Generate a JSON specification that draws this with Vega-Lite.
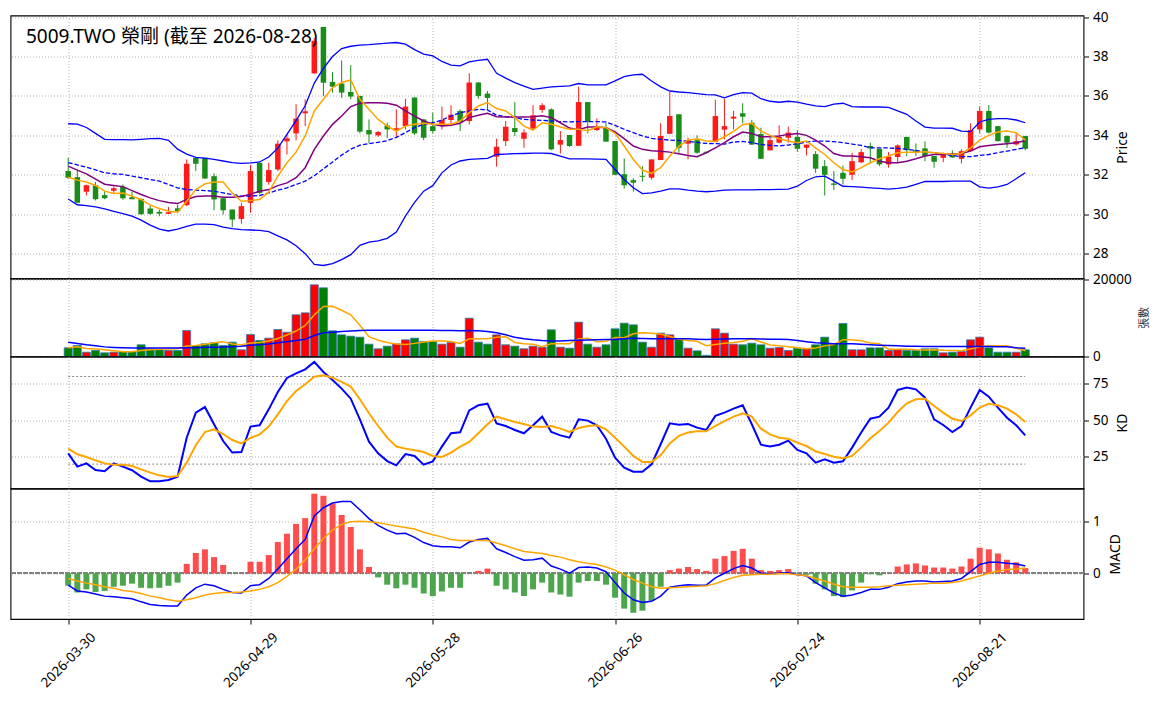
{
  "$schema": "https://vega.github.io/schema/vega-lite/v6.json",
  "description": "5009.TWO candlestick with Bollinger bands, volume, KD and MACD panels",
  "padding": {"left": 8.5, "top": 9.5, "right": 5, "bottom": 5},
  "background": "white",
  "spacing": 0,
  "bounds": "flush",
  "config": {
    "font": "Noto Sans, Noto Sans CJK TC",
    "view": {"stroke": "#000000", "strokeWidth": 1.1},
    "axis": {
      "labelFont": "Noto Sans, Noto Sans CJK TC",
      "labelFontSize": 13.5,
      "labelColor": "#000000",
      "titleFont": "Noto Sans, Noto Sans CJK TC",
      "titleFontSize": 14,
      "titleFontWeight": "normal",
      "titleColor": "#000000",
      "tickColor": "#000000",
      "tickSize": 5,
      "labelPadding": 4,
      "domain": false,
      "gridColor": "#b0b0b0",
      "gridDash": [1, 2],
      "gridWidth": 1
    },
    "axisRight": {"titleAngle": -90, "titleBaseline": "top", "titlePadding": 6}
  },
  "datasets": {
    "bars": [
      {"i":0,"o":32.19,"h":32.86,"l":31.8,"c":31.85,"v":2260,"m5":31.88,"m10":32.44,"mid":32.62,"up":34.59,"lo":30.77,"vm5":2260,"vm20":3720,"k":27.4,"d":30.6,"hist":-0.24,"dif":-0.23,"dea":-0.1},
      {"i":1,"o":31.88,"h":32.2,"l":30.58,"c":30.58,"v":2857,"m5":31.73,"m10":32.24,"mid":32.5,"up":34.57,"lo":30.48,"vm5":2560,"vm20":3400,"k":18.3,"d":26.7,"hist":-0.37,"dif":-0.34,"dea":-0.15},
      {"i":2,"o":31.14,"h":31.5,"l":30.95,"c":31.47,"v":1117,"m5":31.63,"m10":32.05,"mid":32.38,"up":34.4,"lo":30.44,"vm5":2080,"vm20":3050,"k":20.5,"d":24.9,"hist":-0.31,"dif":-0.36,"dea":-0.19},
      {"i":3,"o":31.47,"h":31.64,"l":30.7,"c":30.76,"v":1558,"m5":31.46,"m10":31.78,"mid":32.25,"up":34.1,"lo":30.37,"vm5":1950,"vm20":2800,"k":16,"d":22.6,"hist":-0.36,"dif":-0.4,"dea":-0.22},
      {"i":4,"o":30.97,"h":31.17,"l":30.76,"c":30.81,"v":960,"m5":31.17,"m10":31.52,"mid":32.1,"up":33.8,"lo":30.27,"vm5":1750,"vm20":2500,"k":15.1,"d":20.5,"hist":-0.34,"dif":-0.44,"dea":-0.26},
      {"i":5,"o":31.19,"h":31.42,"l":31.08,"c":31.32,"v":1117,"m5":31.05,"m10":31.46,"mid":32.05,"up":33.78,"lo":30.15,"vm5":1520,"vm20":2350,"k":20.5,"d":19.6,"hist":-0.26,"dif":-0.45,"dea":-0.29},
      {"i":6,"o":31.39,"h":31.5,"l":30.73,"c":30.81,"v":1300,"m5":31.08,"m10":31.4,"mid":32.02,"up":33.78,"lo":30.03,"vm5":1210,"vm20":2250,"k":18.3,"d":19.6,"hist":-0.24,"dif":-0.47,"dea":-0.33},
      {"i":7,"o":30.86,"h":31.14,"l":30.76,"c":30.76,"v":1300,"m5":30.92,"m10":31.2,"mid":31.93,"up":33.77,"lo":29.9,"vm5":1250,"vm20":2200,"k":15.8,"d":18.7,"hist":-0.2,"dif":-0.49,"dea":-0.35},
      {"i":8,"o":30.78,"h":30.78,"l":29.97,"c":30.0,"v":3040,"m5":30.75,"m10":31.0,"mid":31.85,"up":33.8,"lo":29.7,"vm5":1540,"vm20":2200,"k":11.4,"d":16.4,"hist":-0.28,"dif":-0.55,"dea":-0.39},
      {"i":9,"o":30.29,"h":30.44,"l":29.97,"c":30.02,"v":2000,"m5":30.46,"m10":30.83,"mid":31.76,"up":33.83,"lo":29.45,"vm5":1750,"vm20":2200,"k":8.2,"d":14.2,"hist":-0.29,"dif":-0.6,"dea":-0.44},
      {"i":10,"o":30.12,"h":30.24,"l":29.9,"c":30.03,"v":1740,"m5":30.29,"m10":30.69,"mid":31.68,"up":33.85,"lo":29.25,"vm5":1880,"vm20":2200,"k":8.2,"d":12.3,"hist":-0.28,"dif":-0.62,"dea":-0.47},
      {"i":11,"o":30.02,"h":30.37,"l":30.02,"c":30.1,"v":1558,"m5":30.15,"m10":30.6,"mid":31.51,"up":33.75,"lo":29.15,"vm5":1930,"vm20":2200,"k":9.1,"d":11.2,"hist":-0.24,"dif":-0.63,"dea":-0.51},
      {"i":12,"o":30.3,"h":30.49,"l":30.12,"c":30.15,"v":1558,"m5":30.1,"m10":30.54,"mid":31.34,"up":33.3,"lo":29.25,"vm5":1980,"vm20":2200,"k":11.4,"d":11.9,"hist":-0.18,"dif":-0.63,"dea":-0.54},
      {"i":13,"o":30.46,"h":32.78,"l":30.41,"c":32.56,"v":6750,"m5":30.66,"m10":30.75,"mid":31.25,"up":33.05,"lo":29.38,"vm5":2720,"vm20":2250,"k":38.1,"d":21,"hist":0.18,"dif":-0.42,"dea":-0.51},
      {"i":14,"o":32.86,"h":32.86,"l":32.19,"c":32.56,"v":2857,"m5":31.25,"m10":30.9,"mid":31.22,"up":32.88,"lo":29.5,"vm5":2890,"vm20":2300,"k":55.3,"d":32.9,"hist":0.39,"dif":-0.28,"dea":-0.47},
      {"i":15,"o":32.86,"h":32.86,"l":31.8,"c":31.81,"v":3290,"m5":31.54,"m10":30.93,"mid":31.2,"up":32.85,"lo":29.5,"vm5":3200,"vm20":2400,"k":59.1,"d":42,"hist":0.46,"dif":-0.21,"dea":-0.42},
      {"i":16,"o":31.93,"h":32.07,"l":30.2,"c":30.75,"v":3550,"m5":31.63,"m10":30.92,"mid":31.17,"up":32.78,"lo":29.47,"vm5":3600,"vm20":2420,"k":47.3,"d":43.8,"hist":0.31,"dif":-0.24,"dea":-0.39},
      {"i":17,"o":30.81,"h":30.81,"l":29.98,"c":30.2,"v":2857,"m5":31.63,"m10":30.86,"mid":31.08,"up":32.7,"lo":29.35,"vm5":3860,"vm20":2450,"k":35.8,"d":40.6,"hist":0.16,"dif":-0.31,"dea":-0.37},
      {"i":18,"o":30.24,"h":30.24,"l":29.34,"c":29.73,"v":3720,"m5":31.08,"m10":30.86,"mid":31.0,"up":32.62,"lo":29.27,"vm5":3250,"vm20":2550,"k":27.9,"d":36.5,"hist":-0.005,"dif":-0.37,"dea":-0.37},
      {"i":19,"o":29.76,"h":30.58,"l":29.52,"c":30.41,"v":1740,"m5":30.66,"m10":30.9,"mid":30.92,"up":32.58,"lo":29.22,"vm5":3030,"vm20":2650,"k":28.3,"d":34.2,"hist":0.005,"dif":-0.38,"dea":-0.36},
      {"i":20,"o":30.58,"h":32.5,"l":30.07,"c":32.19,"v":5700,"m5":30.69,"m10":31.02,"mid":30.92,"up":32.6,"lo":29.2,"vm5":3510,"vm20":2900,"k":45.7,"d":37.9,"hist":0.22,"dif":-0.24,"dea":-0.34},
      {"i":21,"o":32.61,"h":32.61,"l":31.03,"c":31.08,"v":4150,"m5":30.75,"m10":31.17,"mid":30.95,"up":32.65,"lo":29.18,"vm5":3630,"vm20":3050,"k":46.6,"d":40.4,"hist":0.22,"dif":-0.22,"dea":-0.31},
      {"i":22,"o":31.64,"h":32.61,"l":31.5,"c":32.24,"v":4760,"m5":31.12,"m10":31.25,"mid":31.08,"up":32.9,"lo":29.12,"vm5":4010,"vm20":3250,"k":57.5,"d":45.7,"hist":0.35,"dif":-0.1,"dea":-0.26},
      {"i":23,"o":32.27,"h":33.75,"l":32.19,"c":33.58,"v":7010,"m5":31.93,"m10":31.45,"mid":31.22,"up":33.35,"lo":28.9,"vm5":4670,"vm20":3550,"k":69.4,"d":54.1,"hist":0.6,"dif":0.08,"dea":-0.18},
      {"i":24,"o":33.7,"h":34.07,"l":33.03,"c":33.85,"v":6300,"m5":32.61,"m10":31.59,"mid":31.34,"up":34.05,"lo":28.7,"vm5":5580,"vm20":3850,"k":79,"d":63.2,"hist":0.76,"dif":0.28,"dea":-0.06},
      {"i":25,"o":34.1,"h":35.58,"l":33.75,"c":34.85,"v":10830,"m5":33.15,"m10":31.85,"mid":31.51,"up":34.75,"lo":28.4,"vm5":6610,"vm20":4150,"k":82.2,"d":70.1,"hist":0.95,"dif":0.47,"dea":0.08},
      {"i":26,"o":35.12,"h":35.83,"l":34.47,"c":35.22,"v":11340,"m5":33.97,"m10":32.36,"mid":31.68,"up":35.5,"lo":28.0,"vm5":8050,"vm20":4500,"k":84.9,"d":74.7,"hist":1.06,"dif":0.65,"dea":0.26},
      {"i":27,"o":37.14,"h":38.95,"l":37.14,"c":38.8,"v":18620,"m5":35.24,"m10":33.29,"mid":31.95,"up":36.65,"lo":27.45,"vm5":10820,"vm20":5450,"k":90,"d":79.9,"hist":1.53,"dif":1.1,"dea":0.47},
      {"i":28,"o":39.5,"h":39.5,"l":36.0,"c":36.67,"v":17840,"m5":35.83,"m10":33.97,"mid":32.3,"up":37.4,"lo":27.4,"vm5":12990,"vm20":6150,"k":83.1,"d":80.8,"hist":1.49,"dif":1.26,"dea":0.67},
      {"i":29,"o":36.71,"h":37.2,"l":36.17,"c":36.47,"v":6670,"m5":36.42,"m10":34.56,"mid":32.65,"up":38.0,"lo":27.5,"vm5":13060,"vm20":6320,"k":77.6,"d":79.2,"hist":1.34,"dif":1.35,"dea":0.83},
      {"i":30,"o":36.63,"h":37.8,"l":35.9,"c":36.17,"v":5630,"m5":36.68,"m10":34.98,"mid":33.0,"up":38.4,"lo":27.7,"vm5":12020,"vm20":6490,"k":71.7,"d":76.3,"hist":1.12,"dif":1.38,"dea":0.94},
      {"i":31,"o":36.2,"h":37.56,"l":35.83,"c":35.97,"v":5280,"m5":36.81,"m10":35.46,"mid":33.3,"up":38.52,"lo":27.95,"vm5":10810,"vm20":6650,"k":64.8,"d":73.1,"hist":0.89,"dif":1.38,"dea":0.99},
      {"i":32,"o":36.0,"h":36.0,"l":34.1,"c":34.19,"v":5020,"m5":35.83,"m10":35.63,"mid":33.5,"up":38.58,"lo":28.42,"vm5":8090,"vm20":6750,"k":50.7,"d":64.4,"hist":0.46,"dif":1.22,"dea":1.0},
      {"i":33,"o":34.27,"h":34.81,"l":33.6,"c":34.05,"v":3200,"m5":35.32,"m10":35.66,"mid":33.58,"up":38.6,"lo":28.58,"vm5":5160,"vm20":6800,"k":35.4,"d":54.8,"hist":0.12,"dif":1.05,"dea":0.99},
      {"i":34,"o":34.0,"h":34.22,"l":33.93,"c":34.17,"v":2000,"m5":34.81,"m10":35.66,"mid":33.65,"up":38.64,"lo":28.65,"vm5":4230,"vm20":6800,"k":27.4,"d":46.1,"hist":-0.08,"dif":0.92,"dea":0.97},
      {"i":35,"o":34.5,"h":34.64,"l":33.86,"c":34.3,"v":2680,"m5":34.47,"m10":35.63,"mid":33.73,"up":38.68,"lo":28.78,"vm5":3640,"vm20":6800,"k":22.1,"d":38.1,"hist":-0.22,"dif":0.83,"dea":0.94},
      {"i":36,"o":34.22,"h":35.32,"l":33.93,"c":34.36,"v":3290,"m5":34.22,"m10":35.53,"mid":33.9,"up":38.71,"lo":29.1,"vm5":3240,"vm20":6800,"k":19.2,"d":32,"hist":-0.29,"dif":0.76,"dea":0.91},
      {"i":37,"o":34.47,"h":35.86,"l":34.3,"c":35.46,"v":4330,"m5":34.47,"m10":35.24,"mid":34.14,"up":38.63,"lo":29.9,"vm5":3100,"vm20":6800,"k":26.9,"d":30.6,"hist":-0.22,"dif":0.77,"dea":0.88},
      {"i":38,"o":35.92,"h":35.92,"l":34.03,"c":34.1,"v":4760,"m5":34.56,"m10":34.98,"mid":34.39,"up":38.35,"lo":30.6,"vm5":3410,"vm20":6850,"k":25.6,"d":29.5,"hist":-0.28,"dif":0.69,"dea":0.85},
      {"i":39,"o":34.81,"h":34.81,"l":33.76,"c":33.88,"v":3900,"m5":34.61,"m10":34.73,"mid":34.56,"up":38.12,"lo":31.17,"vm5":3790,"vm20":6850,"k":19.6,"d":28.3,"hist":-0.39,"dif":0.59,"dea":0.79},
      {"i":40,"o":34.47,"h":35.15,"l":34.1,"c":34.22,"v":3900,"m5":34.56,"m10":34.56,"mid":34.64,"up":38.03,"lo":31.45,"vm5":4040,"vm20":6800,"k":21.9,"d":25.6,"hist":-0.44,"dif":0.53,"dea":0.74},
      {"i":41,"o":34.47,"h":35.46,"l":34.3,"c":34.78,"v":3200,"m5":34.56,"m10":34.47,"mid":34.78,"up":37.75,"lo":32.1,"vm5":4020,"vm20":6750,"k":32,"d":24.9,"hist":-0.35,"dif":0.51,"dea":0.7},
      {"i":42,"o":34.78,"h":35.53,"l":34.47,"c":35.05,"v":3640,"m5":34.56,"m10":34.51,"mid":34.98,"up":37.56,"lo":32.5,"vm5":3880,"vm20":6750,"k":41.1,"d":27.9,"hist":-0.28,"dif":0.51,"dea":0.65},
      {"i":43,"o":35.24,"h":35.32,"l":34.22,"c":34.68,"v":2420,"m5":34.73,"m10":34.61,"mid":35.15,"up":37.53,"lo":32.7,"vm5":3410,"vm20":6700,"k":41.8,"d":32,"hist":-0.28,"dif":0.49,"dea":0.63},
      {"i":44,"o":34.73,"h":37.15,"l":34.56,"c":36.68,"v":9950,"m5":35.15,"m10":34.9,"mid":35.24,"up":37.73,"lo":32.78,"vm5":4620,"vm20":6750,"k":56.8,"d":35.2,"hist":-0.005,"dif":0.6,"dea":0.63},
      {"i":45,"o":36.68,"h":36.71,"l":35.86,"c":36.0,"v":3720,"m5":35.49,"m10":35.02,"mid":35.32,"up":37.8,"lo":32.81,"vm5":4590,"vm20":6700,"k":60.3,"d":41.1,"hist":0.045,"dif":0.65,"dea":0.63},
      {"i":46,"o":36.12,"h":36.25,"l":35.29,"c":35.9,"v":3200,"m5":35.66,"m10":35.12,"mid":35.29,"up":37.86,"lo":32.83,"vm5":4590,"vm20":6500,"k":61.4,"d":47.3,"hist":0.09,"dif":0.67,"dea":0.63},
      {"i":47,"o":32.92,"h":33.83,"l":32.41,"c":33.42,"v":5630,"m5":35.36,"m10":34.95,"mid":35.02,"up":37.15,"lo":33.03,"vm5":4980,"vm20":6150,"k":47.9,"d":52.5,"hist":-0.24,"dif":0.47,"dea":0.58},
      {"i":48,"o":33.71,"h":34.73,"l":33.46,"c":34.44,"v":3040,"m5":35.24,"m10":34.93,"mid":34.95,"up":36.9,"lo":33.05,"vm5":5110,"vm20":5630,"k":46.1,"d":50.7,"hist":-0.31,"dif":0.4,"dea":0.53},
      {"i":49,"o":34.37,"h":35.69,"l":33.97,"c":34.17,"v":2680,"m5":34.9,"m10":34.93,"mid":34.9,"up":36.68,"lo":33.07,"vm5":3650,"vm20":5020,"k":43.4,"d":48.9,"hist":-0.37,"dif":0.32,"dea":0.47},
      {"i":50,"o":33.83,"h":34.3,"l":33.37,"c":34.14,"v":2000,"m5":34.47,"m10":34.93,"mid":34.81,"up":36.5,"lo":33.08,"vm5":3310,"vm20":4590,"k":41.1,"d":47.5,"hist":-0.44,"dif":0.25,"dea":0.42},
      {"i":51,"o":34.34,"h":35.53,"l":34.3,"c":35.02,"v":2680,"m5":34.27,"m10":34.95,"mid":34.78,"up":36.33,"lo":33.1,"vm5":3210,"vm20":4330,"k":46.6,"d":45.7,"hist":-0.31,"dif":0.26,"dea":0.4},
      {"i":52,"o":35.29,"h":35.63,"l":35.15,"c":35.53,"v":2400,"m5":34.64,"m10":35.0,"mid":34.76,"up":36.4,"lo":33.1,"vm5":2560,"vm20":4150,"k":52.5,"d":45.4,"hist":-0.18,"dif":0.29,"dea":0.38},
      {"i":53,"o":35.32,"h":35.37,"l":33.25,"c":33.29,"v":6930,"m5":34.56,"m10":34.9,"mid":34.73,"up":36.46,"lo":33.08,"vm5":3340,"vm20":4050,"k":42,"d":46.1,"hist":-0.37,"dif":0.14,"dea":0.34},
      {"i":54,"o":33.53,"h":34.22,"l":33.08,"c":33.76,"v":2420,"m5":34.42,"m10":34.64,"mid":34.7,"up":36.48,"lo":32.95,"vm5":3290,"vm20":4050,"k":39.7,"d":44.3,"hist":-0.41,"dif":0.08,"dea":0.31},
      {"i":55,"o":34.02,"h":34.02,"l":33.42,"c":33.46,"v":2160,"m5":34.31,"m10":34.37,"mid":34.68,"up":36.51,"lo":32.81,"vm5":3320,"vm20":4150,"k":38.1,"d":42,"hist":-0.45,"dif":0.0,"dea":0.26},
      {"i":56,"o":33.47,"h":36.47,"l":33.47,"c":35.69,"v":8920,"m5":34.31,"m10":34.29,"mid":34.7,"up":36.63,"lo":32.81,"vm5":4570,"vm20":4250,"k":50.7,"d":44.7,"hist":-0.18,"dif":0.11,"dea":0.22},
      {"i":57,"o":35.69,"h":35.69,"l":34.1,"c":34.68,"v":3200,"m5":34.24,"m10":34.42,"mid":34.7,"up":36.56,"lo":32.81,"vm5":4730,"vm20":4300,"k":49.8,"d":46.1,"hist":-0.15,"dif":0.12,"dea":0.19},
      {"i":58,"o":34.27,"h":34.86,"l":34.22,"c":34.42,"v":2420,"m5":34.44,"m10":34.42,"mid":34.7,"up":36.56,"lo":32.8,"vm5":3820,"vm20":4350,"k":46.6,"d":46.6,"hist":-0.15,"dif":0.1,"dea":0.17},
      {"i":59,"o":34.39,"h":34.64,"l":33.68,"c":33.68,"v":3040,"m5":34.39,"m10":34.39,"mid":34.68,"up":36.56,"lo":32.78,"vm5":3950,"vm20":4400,"k":37.4,"d":43.8,"hist":-0.22,"dif":0.03,"dea":0.12},
      {"i":60,"o":33.71,"h":33.71,"l":32.0,"c":32.0,"v":7190,"m5":34.1,"m10":34.17,"mid":34.51,"up":36.76,"lo":32.27,"vm5":4950,"vm20":4420,"k":24.4,"d":38.1,"hist":-0.47,"dif":-0.18,"dea":0.06},
      {"i":61,"o":32.03,"h":32.83,"l":31.29,"c":31.47,"v":8650,"m5":33.46,"m10":33.83,"mid":34.31,"up":36.98,"lo":31.76,"vm5":4900,"vm20":4600,"k":17.6,"d":32,"hist":-0.68,"dif":-0.38,"dea":-0.03},
      {"i":62,"o":31.73,"h":31.83,"l":31.15,"c":31.6,"v":8220,"m5":32.78,"m10":33.46,"mid":34.14,"up":37.07,"lo":31.34,"vm5":5900,"vm20":4760,"k":14.8,"d":25.6,"hist":-0.76,"dif":-0.51,"dea":-0.12},
      {"i":63,"o":31.95,"h":32.44,"l":31.66,"c":31.9,"v":3720,"m5":32.24,"m10":33.29,"mid":33.97,"up":37.1,"lo":31.05,"vm5":6160,"vm20":4700,"k":14.8,"d":21.5,"hist":-0.72,"dif":-0.56,"dea":-0.19},
      {"i":64,"o":31.85,"h":32.78,"l":31.76,"c":32.78,"v":2420,"m5":32.07,"m10":33.22,"mid":33.85,"up":36.76,"lo":31.08,"vm5":6040,"vm20":4600,"k":19.9,"d":21.5,"hist":-0.53,"dif":-0.54,"dea":-0.26},
      {"i":65,"o":32.75,"h":34.61,"l":32.75,"c":33.97,"v":6060,"m5":32.36,"m10":33.2,"mid":33.8,"up":36.46,"lo":31.17,"vm5":5810,"vm20":4600,"k":33.6,"d":26,"hist":-0.26,"dif":-0.44,"dea":-0.29},
      {"i":66,"o":34.08,"h":36.2,"l":34.08,"c":34.98,"v":5630,"m5":32.95,"m10":33.15,"mid":33.76,"up":36.25,"lo":31.29,"vm5":5210,"vm20":4600,"k":47.9,"d":34.2,"hist":0.06,"dif":-0.27,"dea":-0.28},
      {"i":67,"o":35.07,"h":35.07,"l":33.12,"c":33.37,"v":4410,"m5":33.46,"m10":33.07,"mid":33.74,"up":36.2,"lo":31.29,"vm5":4450,"vm20":4600,"k":47,"d":39.3,"hist":0.09,"dif":-0.24,"dea":-0.27},
      {"i":68,"o":33.58,"h":33.88,"l":32.78,"c":33.76,"v":2160,"m5":33.76,"m10":32.98,"mid":33.69,"up":36.17,"lo":31.22,"vm5":4140,"vm20":4590,"k":47.5,"d":41.6,"hist":0.12,"dif":-0.22,"dea":-0.26},
      {"i":69,"o":33.76,"h":34.0,"l":33.07,"c":33.12,"v":1470,"m5":33.83,"m10":32.92,"mid":33.64,"up":36.12,"lo":31.17,"vm5":3950,"vm20":4500,"k":45,"d":42.5,"hist":0.08,"dif":-0.23,"dea":-0.25},
      {"i":70,"o":33.17,"h":33.17,"l":33.08,"c":33.12,"v":300,"m5":33.71,"m10":33.12,"mid":33.59,"up":36.07,"lo":31.14,"vm5":2790,"vm20":4420,"k":43.4,"d":42.5,"hist":0.045,"dif":-0.23,"dea":-0.24},
      {"i":71,"o":33.66,"h":35.8,"l":33.66,"c":34.98,"v":7190,"m5":33.69,"m10":33.37,"mid":33.58,"up":36.05,"lo":31.17,"vm5":3110,"vm20":4500,"k":53,"d":46.1,"hist":0.28,"dif":-0.09,"dea":-0.2},
      {"i":72,"o":34.29,"h":35.86,"l":33.8,"c":34.47,"v":6060,"m5":33.93,"m10":33.63,"mid":33.56,"up":35.9,"lo":31.22,"vm5":3440,"vm20":4550,"k":55.3,"d":49.5,"hist":0.33,"dif":0.0,"dea":-0.14},
      {"i":73,"o":34.85,"h":35.24,"l":34.3,"c":34.95,"v":3200,"m5":34.2,"m10":33.93,"mid":33.66,"up":36.07,"lo":31.24,"vm5":3640,"vm20":4590,"k":58,"d":52.5,"hist":0.43,"dif":0.09,"dea":-0.08},
      {"i":74,"o":35.12,"h":35.63,"l":34.61,"c":34.95,"v":3040,"m5":34.54,"m10":34.17,"mid":33.69,"up":36.17,"lo":31.24,"vm5":3960,"vm20":4590,"k":60.3,"d":54.8,"hist":0.47,"dif":0.15,"dea":-0.04},
      {"i":75,"o":34.64,"h":34.78,"l":33.53,"c":33.53,"v":3460,"m5":34.61,"m10":34.1,"mid":33.63,"up":36.14,"lo":31.24,"vm5":4590,"vm20":4590,"k":47.3,"d":52.5,"hist":0.28,"dif":0.1,"dea":-0.03},
      {"i":76,"o":34.07,"h":34.39,"l":32.81,"c":32.81,"v":3040,"m5":34.22,"m10":33.93,"mid":33.54,"up":35.86,"lo":31.25,"vm5":3760,"vm20":4550,"k":33.3,"d":44.3,"hist":0.06,"dif":0.0,"dea":-0.02},
      {"i":77,"o":33.24,"h":33.88,"l":33.24,"c":33.76,"v":2160,"m5":34.0,"m10":33.93,"mid":33.49,"up":35.73,"lo":31.25,"vm5":2980,"vm20":4500,"k":32,"d":40.4,"hist":0.045,"dif":-0.01,"dea":-0.02},
      {"i":78,"o":33.63,"h":34.51,"l":33.59,"c":33.92,"v":2330,"m5":33.83,"m10":33.97,"mid":33.47,"up":35.68,"lo":31.26,"vm5":2810,"vm20":4450,"k":33.3,"d":38.1,"hist":0.06,"dif":0.0,"dea":-0.01},
      {"i":79,"o":33.88,"h":34.44,"l":33.63,"c":34.14,"v":1558,"m5":33.71,"m10":34.05,"mid":33.51,"up":35.73,"lo":31.27,"vm5":2510,"vm20":4415,"k":36.1,"d":37.4,"hist":0.08,"dif":0.01,"dea":-0.01},
      {"i":80,"o":33.92,"h":34.25,"l":33.17,"c":33.32,"v":2160,"m5":33.63,"m10":34.1,"mid":33.58,"up":35.69,"lo":31.42,"vm5":2250,"vm20":4156,"k":29.7,"d":34.7,"hist":-0.005,"dif":-0.03,"dea":-0.03},
      {"i":81,"o":33.37,"h":33.54,"l":32.98,"c":33.53,"v":2000,"m5":33.71,"m10":34.0,"mid":33.66,"up":35.58,"lo":31.71,"vm5":2040,"vm20":3850,"k":27.4,"d":32.4,"hist":-0.03,"dif":-0.05,"dea":-0.05},
      {"i":82,"o":33.05,"h":33.2,"l":32.1,"c":32.31,"v":3040,"m5":33.37,"m10":33.76,"mid":33.71,"up":35.5,"lo":31.9,"vm5":2220,"vm20":3550,"k":21,"d":28.8,"hist":-0.2,"dif":-0.18,"dea":-0.1},
      {"i":83,"o":32.44,"h":32.75,"l":30.95,"c":32.0,"v":5020,"m5":33.03,"m10":33.46,"mid":33.71,"up":35.46,"lo":31.93,"vm5":2760,"vm20":3420,"k":23.3,"d":26.9,"hist":-0.31,"dif":-0.28,"dea":-0.15},
      {"i":84,"o":31.56,"h":32.19,"l":31.22,"c":31.49,"v":3290,"m5":32.61,"m10":33.08,"mid":33.68,"up":35.58,"lo":31.68,"vm5":3100,"vm20":3290,"k":21,"d":25.1,"hist":-0.44,"dif":-0.38,"dea":-0.21},
      {"i":85,"o":32.1,"h":32.47,"l":31.51,"c":31.8,"v":8570,"m5":32.27,"m10":32.95,"mid":33.63,"up":35.63,"lo":31.42,"vm5":4380,"vm20":3290,"k":21.9,"d":24,"hist":-0.46,"dif":-0.44,"dea":-0.26},
      {"i":86,"o":32.0,"h":33.12,"l":31.73,"c":32.69,"v":1740,"m5":32.14,"m10":32.95,"mid":33.56,"up":35.46,"lo":31.4,"vm5":4330,"vm20":3290,"k":31.3,"d":25.6,"hist":-0.33,"dif":-0.42,"dea":-0.27},
      {"i":87,"o":32.63,"h":33.32,"l":32.59,"c":33.15,"v":1740,"m5":32.36,"m10":32.92,"mid":33.49,"up":35.44,"lo":31.37,"vm5":4070,"vm20":3170,"k":41.6,"d":31.3,"hist":-0.18,"dif":-0.37,"dea":-0.27},
      {"i":88,"o":33.46,"h":33.63,"l":32.59,"c":33.34,"v":2250,"m5":32.61,"m10":32.86,"mid":33.37,"up":35.44,"lo":31.34,"vm5":3520,"vm20":3040,"k":51.1,"d":37.7,"hist":-0.02,"dif":-0.31,"dea":-0.27},
      {"i":89,"o":33.32,"h":33.32,"l":32.44,"c":32.53,"v":2250,"m5":32.81,"m10":32.69,"mid":33.37,"up":35.44,"lo":31.31,"vm5":3310,"vm20":2950,"k":52.5,"d":42.7,"hist":-0.04,"dif":-0.31,"dea":-0.26},
      {"i":90,"o":32.53,"h":33.15,"l":32.36,"c":32.92,"v":1558,"m5":32.95,"m10":32.61,"mid":33.36,"up":35.42,"lo":31.27,"vm5":1910,"vm20":2857,"k":58.7,"d":48.4,"hist":0.0,"dif":-0.27,"dea":-0.24},
      {"i":91,"o":32.9,"h":33.54,"l":32.64,"c":33.49,"v":1740,"m5":33.12,"m10":32.61,"mid":33.34,"up":35.24,"lo":31.31,"vm5":1910,"vm20":2770,"k":70.8,"d":55.7,"hist":0.13,"dif":-0.2,"dea":-0.23},
      {"i":92,"o":33.92,"h":33.92,"l":32.95,"c":33.25,"v":1558,"m5":33.15,"m10":32.69,"mid":33.29,"up":35.07,"lo":31.37,"vm5":1870,"vm20":2680,"k":72.4,"d":61.6,"hist":0.17,"dif":-0.17,"dea":-0.22},
      {"i":93,"o":33.25,"h":33.59,"l":32.95,"c":33.12,"v":1558,"m5":33.15,"m10":32.81,"mid":33.24,"up":34.73,"lo":31.51,"vm5":1730,"vm20":2640,"k":71.2,"d":64.4,"hist":0.19,"dif":-0.15,"dea":-0.21},
      {"i":94,"o":33.34,"h":33.69,"l":32.69,"c":32.95,"v":2000,"m5":33.17,"m10":32.95,"mid":33.15,"up":34.42,"lo":31.66,"vm5":1680,"vm20":2600,"k":65.5,"d":64.8,"hist":0.15,"dif":-0.15,"dea":-0.2},
      {"i":95,"o":32.95,"h":32.95,"l":32.36,"c":32.66,"v":2000,"m5":33.12,"m10":33.03,"mid":33.12,"up":34.37,"lo":31.66,"vm5":1770,"vm20":2600,"k":50.7,"d":59.8,"hist":0.11,"dif":-0.17,"dea":-0.19},
      {"i":96,"o":32.86,"h":33.12,"l":32.64,"c":33.08,"v":960,"m5":33.08,"m10":33.03,"mid":33.03,"up":34.37,"lo":31.66,"vm5":1620,"vm20":2600,"k":46.8,"d":55.3,"hist":0.11,"dif":-0.16,"dea":-0.19},
      {"i":97,"o":33.03,"h":33.24,"l":32.86,"c":32.88,"v":1117,"m5":33.03,"m10":33.05,"mid":32.98,"up":34.36,"lo":31.68,"vm5":1530,"vm20":2600,"k":42,"d":51.1,"hist":0.09,"dif":-0.15,"dea":-0.18},
      {"i":98,"o":32.81,"h":33.29,"l":32.58,"c":33.2,"v":1300,"m5":33.08,"m10":33.08,"mid":32.92,"up":34.22,"lo":31.68,"vm5":1480,"vm20":2600,"k":46.1,"d":49.5,"hist":0.13,"dif":-0.1,"dea":-0.15},
      {"i":99,"o":33.2,"h":34.61,"l":33.2,"c":34.27,"v":4330,"m5":33.37,"m10":33.2,"mid":32.92,"up":34.19,"lo":31.68,"vm5":1940,"vm20":2600,"k":58.7,"d":53.4,"hist":0.28,"dif":0.03,"dea":-0.1},
      {"i":100,"o":34.3,"h":35.46,"l":34.1,"c":35.24,"v":5020,"m5":33.76,"m10":33.42,"mid":32.98,"up":34.68,"lo":31.39,"vm5":2550,"vm20":2600,"k":70.8,"d":58.7,"hist":0.49,"dif":0.17,"dea":-0.05},
      {"i":101,"o":35.24,"h":35.53,"l":34.1,"c":34.14,"v":2250,"m5":34.0,"m10":33.49,"mid":33.03,"up":34.81,"lo":31.32,"vm5":2800,"vm20":2600,"k":66.2,"d":61.4,"hist":0.46,"dif":0.21,"dea":0.0},
      {"i":102,"o":34.47,"h":34.47,"l":33.68,"c":33.71,"v":1117,"m5":34.17,"m10":33.54,"mid":33.12,"up":34.85,"lo":31.39,"vm5":2800,"vm20":2560,"k":58.7,"d":60.3,"hist":0.38,"dif":0.21,"dea":0.045},
      {"i":103,"o":33.97,"h":34.0,"l":33.37,"c":33.63,"v":1117,"m5":34.22,"m10":33.58,"mid":33.2,"up":34.85,"lo":31.51,"vm5":2770,"vm20":2510,"k":51.8,"d":58,"hist":0.26,"dif":0.19,"dea":0.07},
      {"i":104,"o":33.54,"h":34.14,"l":33.49,"c":33.71,"v":1117,"m5":34.14,"m10":33.63,"mid":33.29,"up":34.78,"lo":31.8,"vm5":2120,"vm20":2300,"k":46.6,"d":54.1,"hist":0.21,"dif":0.18,"dea":0.08},
      {"i":105,"o":33.97,"h":33.97,"l":33.24,"c":33.32,"v":1740,"m5":33.76,"m10":33.73,"mid":33.37,"up":34.64,"lo":32.1,"vm5":1470,"vm20":2150,"k":39.7,"d":48.9,"hist":0.1,"dif":0.14,"dea":0.1}
    ],
    "kdLevels": [{"lvl": 80}, {"lvl": 20}],
    "heading": [{"label": "5009.TWO 榮剛 (截至 2026-08-28)"}]
  },
  "vconcat": [
    {
      "width": 1073,
      "height": 263,
      "data": {"name": "bars"},
      "layer": [
        {
          "mark": {"type": "rule", "strokeWidth": 1},
          "encoding": {
            "x": {"field": "i", "type": "quantitative", "title": null, "scale": {"domain": [-6.33, 111.39], "nice": false, "zero": false, "padding": 0}, "axis": {"values": [0, 20, 40, 60, 80, 100], "labels": false, "ticks": false, "domain": false, "grid": true}},
            "y": {"field": "l", "type": "quantitative", "title": "Price", "scale": {"domain": [26.74, 40.08], "nice": false, "zero": false, "padding": 0}, "axis": {"orient": "right", "values": [28, 30, 32, 34, 36, 38, 40], "grid": true, "titlePadding": 8}},
            "y2": {"field": "h"},
            "color": {"condition": {"test": "datum.c >= datum.o", "value": "#ff1a1a"}, "value": "#1a8c1a"}
          }
        },
        {
          "mark": {"type": "bar", "size": 5.5, "orient": "vertical"},
          "encoding": {
            "x": {"field": "i", "type": "quantitative", "title": null},
            "y": {"field": "o", "type": "quantitative", "title": "Price"},
            "y2": {"field": "c"},
            "color": {"condition": {"test": "datum.c >= datum.o", "value": "#ff1a1a"}, "value": "#1a8c1a"}
          }
        },
        {
          "mark": {"type": "line", "color": "#0000ff", "strokeWidth": 1.3},
          "encoding": {"x": {"field": "i", "type": "quantitative", "title": null}, "y": {"field": "up", "type": "quantitative", "title": "Price"}}
        },
        {
          "mark": {"type": "line", "color": "#0000ff", "strokeWidth": 1.3},
          "encoding": {"x": {"field": "i", "type": "quantitative", "title": null}, "y": {"field": "lo", "type": "quantitative", "title": "Price"}}
        },
        {
          "mark": {"type": "line", "color": "#0000ff", "strokeWidth": 1.3, "strokeDash": [4.5, 2]},
          "encoding": {"x": {"field": "i", "type": "quantitative", "title": null}, "y": {"field": "mid", "type": "quantitative", "title": "Price"}}
        },
        {
          "mark": {"type": "line", "color": "#800080", "strokeWidth": 1.5},
          "encoding": {"x": {"field": "i", "type": "quantitative", "title": null}, "y": {"field": "m10", "type": "quantitative", "title": "Price"}}
        },
        {
          "mark": {"type": "line", "color": "#ffa500", "strokeWidth": 1.5},
          "encoding": {"x": {"field": "i", "type": "quantitative", "title": null}, "y": {"field": "m5", "type": "quantitative", "title": "Price"}}
        },
        {
          "data": {"name": "heading"},
          "mark": {"type": "text", "align": "left", "baseline": "alphabetic", "font": "Noto Sans, Noto Sans CJK TC", "fontSize": 19, "color": "#000000"},
          "encoding": {
            "x": {"datum": -4.63, "type": "quantitative"},
            "y": {"datum": 38.67, "type": "quantitative"},
            "text": {"field": "label"}
          }
        }
      ]
    },
    {
      "width": 1073,
      "height": 78,
      "data": {"name": "bars"},
      "layer": [
        {
          "mark": {"type": "bar", "size": 8, "orient": "vertical", "stroke": "#2f7ab8", "strokeWidth": 0.8},
          "encoding": {
            "x": {"field": "i", "type": "quantitative", "title": null, "scale": {"domain": [-6.33, 111.39], "nice": false, "zero": false, "padding": 0}, "axis": {"values": [0, 20, 40, 60, 80, 100], "labels": false, "ticks": false, "domain": false, "grid": true}},
            "y": {"field": "v", "type": "quantitative", "title": "張數", "scale": {"domain": [0, 20260], "nice": false, "padding": 0}, "axis": {"orient": "right", "values": [0, 20000], "format": "d", "grid": true, "titleFont": "Noto Sans CJK TC", "titleFontSize": 11, "titleColor": "#333333", "titlePadding": 7}},
            "color": {"condition": {"test": "datum.c >= datum.o", "value": "#ff0000"}, "value": "#008000"}
          }
        },
        {
          "mark": {"type": "line", "color": "#ffa500", "strokeWidth": 1.5},
          "encoding": {"x": {"field": "i", "type": "quantitative", "title": null}, "y": {"field": "vm5", "type": "quantitative", "title": "張數"}}
        },
        {
          "mark": {"type": "line", "color": "#0000ff", "strokeWidth": 1.5},
          "encoding": {"x": {"field": "i", "type": "quantitative", "title": null}, "y": {"field": "vm20", "type": "quantitative", "title": "張數"}}
        }
      ]
    },
    {
      "width": 1073,
      "height": 132,
      "layer": [
        {
          "data": {"name": "kdLevels"},
          "mark": {"type": "rule", "color": "#888888", "strokeWidth": 1, "strokeDash": [2, 2]},
          "encoding": {
            "x": {"datum": 0, "type": "quantitative", "title": null, "scale": {"domain": [-6.33, 111.39], "nice": false, "zero": false, "padding": 0}, "axis": {"values": [0, 20, 40, 60, 80, 100], "labels": false, "ticks": false, "domain": false, "grid": true}},
            "x2": {"datum": 105},
            "y": {"field": "lvl", "type": "quantitative", "title": "KD", "scale": {"domain": [3.3, 93.7], "nice": false, "zero": false, "padding": 0}, "axis": {"orient": "right", "values": [25, 50, 75], "grid": true, "titlePadding": 8}}
          }
        },
        {
          "data": {"name": "bars"},
          "mark": {"type": "line", "color": "#0000ff", "strokeWidth": 2},
          "encoding": {"x": {"field": "i", "type": "quantitative", "title": null}, "y": {"field": "k", "type": "quantitative", "title": "KD"}}
        },
        {
          "data": {"name": "bars"},
          "mark": {"type": "line", "color": "#ffa500", "strokeWidth": 2},
          "encoding": {"x": {"field": "i", "type": "quantitative", "title": null}, "y": {"field": "d", "type": "quantitative", "title": "KD"}}
        }
      ]
    },
    {
      "width": 1073,
      "height": 130.5,
      "data": {"name": "bars"},
      "layer": [
        {
          "mark": {"type": "rule", "color": "#808080", "strokeWidth": 1, "strokeDash": [4, 2]},
          "encoding": {
            "y": {"datum": 0, "type": "quantitative", "title": "MACD", "scale": {"domain": [-0.88, 1.63], "nice": false, "zero": false, "padding": 0}, "axis": {"orient": "right", "values": [0, 1], "format": "d", "grid": true, "titlePadding": 8}}
          }
        },
        {
          "mark": {"type": "bar", "size": 6, "orient": "vertical"},
          "encoding": {
            "x": {"field": "i", "type": "quantitative", "title": null, "scale": {"domain": [-6.33, 111.39], "nice": false, "zero": false, "padding": 0}, "axis": {"values": [0, 20, 40, 60, 80, 100], "labelExpr": "['2026-03-30','2026-04-29','2026-05-28','2026-06-26','2026-07-24','2026-08-21'][datum.value / 20]", "labelAngle": -45, "labelAlign": "center", "labelBaseline": "middle", "labelPadding": 36, "labelOverlap": false, "labelFlush": false, "labelBound": false, "ticks": true, "tickSize": 5, "domain": false, "grid": true}},
            "y": {"field": "hist", "type": "quantitative", "title": "MACD"},
            "color": {"condition": {"test": "datum.hist >= 0", "value": "#ff4d4d"}, "value": "#4da64d"}
          }
        },
        {
          "mark": {"type": "line", "color": "#0000ff", "strokeWidth": 1.5},
          "encoding": {"x": {"field": "i", "type": "quantitative", "title": null}, "y": {"field": "dif", "type": "quantitative", "title": "MACD"}}
        },
        {
          "mark": {"type": "line", "color": "#ffa500", "strokeWidth": 1.5},
          "encoding": {"x": {"field": "i", "type": "quantitative", "title": null}, "y": {"field": "dea", "type": "quantitative", "title": "MACD"}}
        }
      ]
    }
  ]
}
